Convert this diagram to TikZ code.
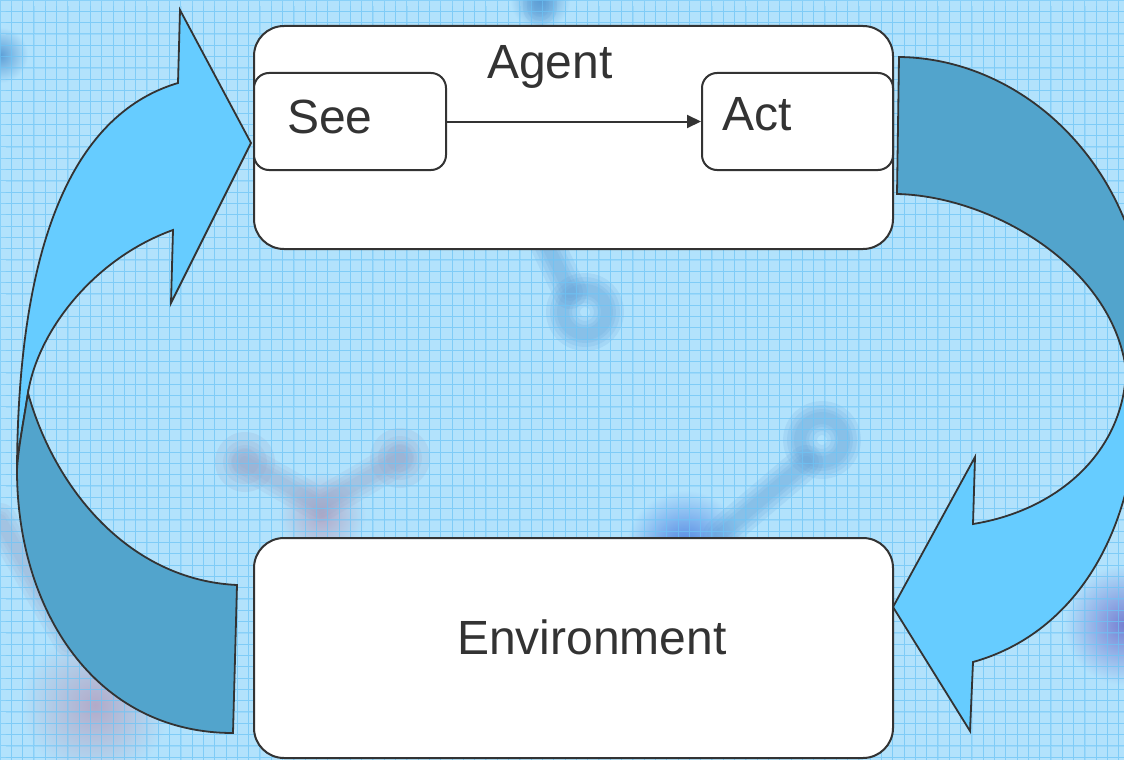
\documentclass[tikz,border=0pt]{standalone}
\usepackage{fontspec}
\setmainfont{Liberation Sans}
\usetikzlibrary{arrows.meta}
\definecolor{bgblue}{RGB}{178,226,252}
\definecolor{gridblue}{RGB}{108,196,246}
\definecolor{lightarrow}{RGB}{102,204,255}
\definecolor{darkarrow}{RGB}{82,164,204}
\definecolor{ink}{RGB}{51,51,51}
\definecolor{blobblue}{RGB}{92,158,214}
\definecolor{blobgrey}{RGB}{150,165,200}
\definecolor{blobpink}{RGB}{178,170,200}
\definecolor{blobviolet}{RGB}{118,128,210}

\begin{document}
\begin{tikzpicture}[x=1pt,y=-1pt,
  box/.style={draw=ink, line width=2pt, fill=white, rounded corners=#1, inner sep=0pt},
  box/.default=30pt,
  label text/.style={text=ink, font=\fontsize{48}{56}\selectfont, inner sep=0pt},
  band/.style={draw=ink, line width=1.8pt, line join=miter},
  fuzz/.style={line cap=round, line join=round, opacity=0.15},
]
\useasboundingbox (0,0) rectangle (1124,760);
\clip (0,0) rectangle (1124,760);

% paper background
\fill[bgblue] (0,0) rectangle (1124,760);

% soft molecule shapes behind the grid
\shade[inner color=blobblue, outer color=bgblue] (540,0) circle (30);
\shade[inner color=blobblue, outer color=bgblue] (0,55) circle (28);
\shade[inner color=blobpink, outer color=bgblue] (322,515) circle (44);
\shade[inner color=blobblue!80!blue, outer color=bgblue] (685,550) circle (60);
\shade[inner color=blobpink, outer color=bgblue] (95,705) circle (75);
\shade[inner color=blobviolet, outer color=bgblue] (1124,625) circle (60);
\foreach \w in {34,26,18,12}{
  \draw[fuzz, blobblue, line width=\w pt] (585,312) circle (22);
  \draw[fuzz, blobblue, line width=\w pt] (545,240) -- (570,292);
  \draw[fuzz, blobblue, line width=\w pt] (822,440) circle (22);
  \draw[fuzz, blobblue, line width=\w pt] (806,462) -- (720,535);
  \draw[fuzz, blobgrey, line width=\w pt] (245,462) -- (320,505) -- (400,458);
  \draw[fuzz, blobgrey, line width=\w pt] (0,520) -- (70,640);
  \draw[fuzz, blobblue, line width=\w pt] (540,-20) -- (540,8);
}
\foreach \r in {30,22,14}{
  \fill[blobgrey, opacity=0.18] (245,462) circle (\r);
  \fill[blobgrey, opacity=0.18] (400,458) circle (\r);
}

% graph-paper grid
\draw[gridblue, line width=1pt, opacity=0.6] (0,0) grid[step=11.3pt] (1124,760);
\draw[gridblue, line width=0.5pt, opacity=0.3] (5.65,5.65) grid[step=11.3pt] (1124,760);

% left curved arrow: front face
\path[band, fill=lightarrow]
  (17,470) .. controls (18,250) and (70,115) .. (178,83)
  -- (180,10) -- (251,143) -- (171,303) -- (173,230)
  .. controls (95,258) and (38,330) .. (28,393)
  .. controls (23,425) and (18,450) .. (17,470) -- cycle;
% left curved arrow: back face
\path[band, fill=darkarrow]
  (28,393) .. controls (55,490) and (130,580) .. (237,585)
  -- (233,733)
  .. controls (95,733) and (17,610) .. (17,470)
  .. controls (18,450) and (23,425) .. (28,393) -- cycle;

% right curved arrow: back face
\path[band, fill=darkarrow]
  (899,57) .. controls (1000,58) and (1100,130) .. (1135,250)
  -- (1150,400) -- (1126,370)
  .. controls (1112,265) and (990,196) .. (897,194) -- cycle;
% right curved arrow: front face
\path[band, fill=lightarrow]
  (1126,370) .. controls (1124,450) and (1060,510) .. (973,524)
  -- (975,457) -- (893,607) -- (970,731) -- (973,662)
  .. controls (1070,635) and (1135,540) .. (1138,400)
  -- (1140,370) -- cycle;

% agent with its two stages
\node[box, minimum width=639pt, minimum height=223pt] (agent) at (573.5,137.5) {};
\node[label text, anchor=base] (agentlbl) at (550,78) {Agent};
\node[box=15pt, minimum width=192pt, minimum height=97pt] (see) at (350,121.5) {};
\node[box=15pt, minimum width=191pt, minimum height=97pt] (act) at (797.5,121.5) {};
\node[label text, anchor=base west] (seelbl) at (287,133) {See};
\node[label text, anchor=base west] (actlbl) at (722,130) {Act};
\draw[ink, line width=2pt, -{Triangle[length=14pt,width=13pt]}] (see.east) -- (act.west);

% environment
\node[box, minimum width=639pt, minimum height=220pt] (env) at (573.5,648) {};
\node[label text, anchor=base] (envlbl) at (592,654) {Environment};
\end{tikzpicture}
\end{document}
